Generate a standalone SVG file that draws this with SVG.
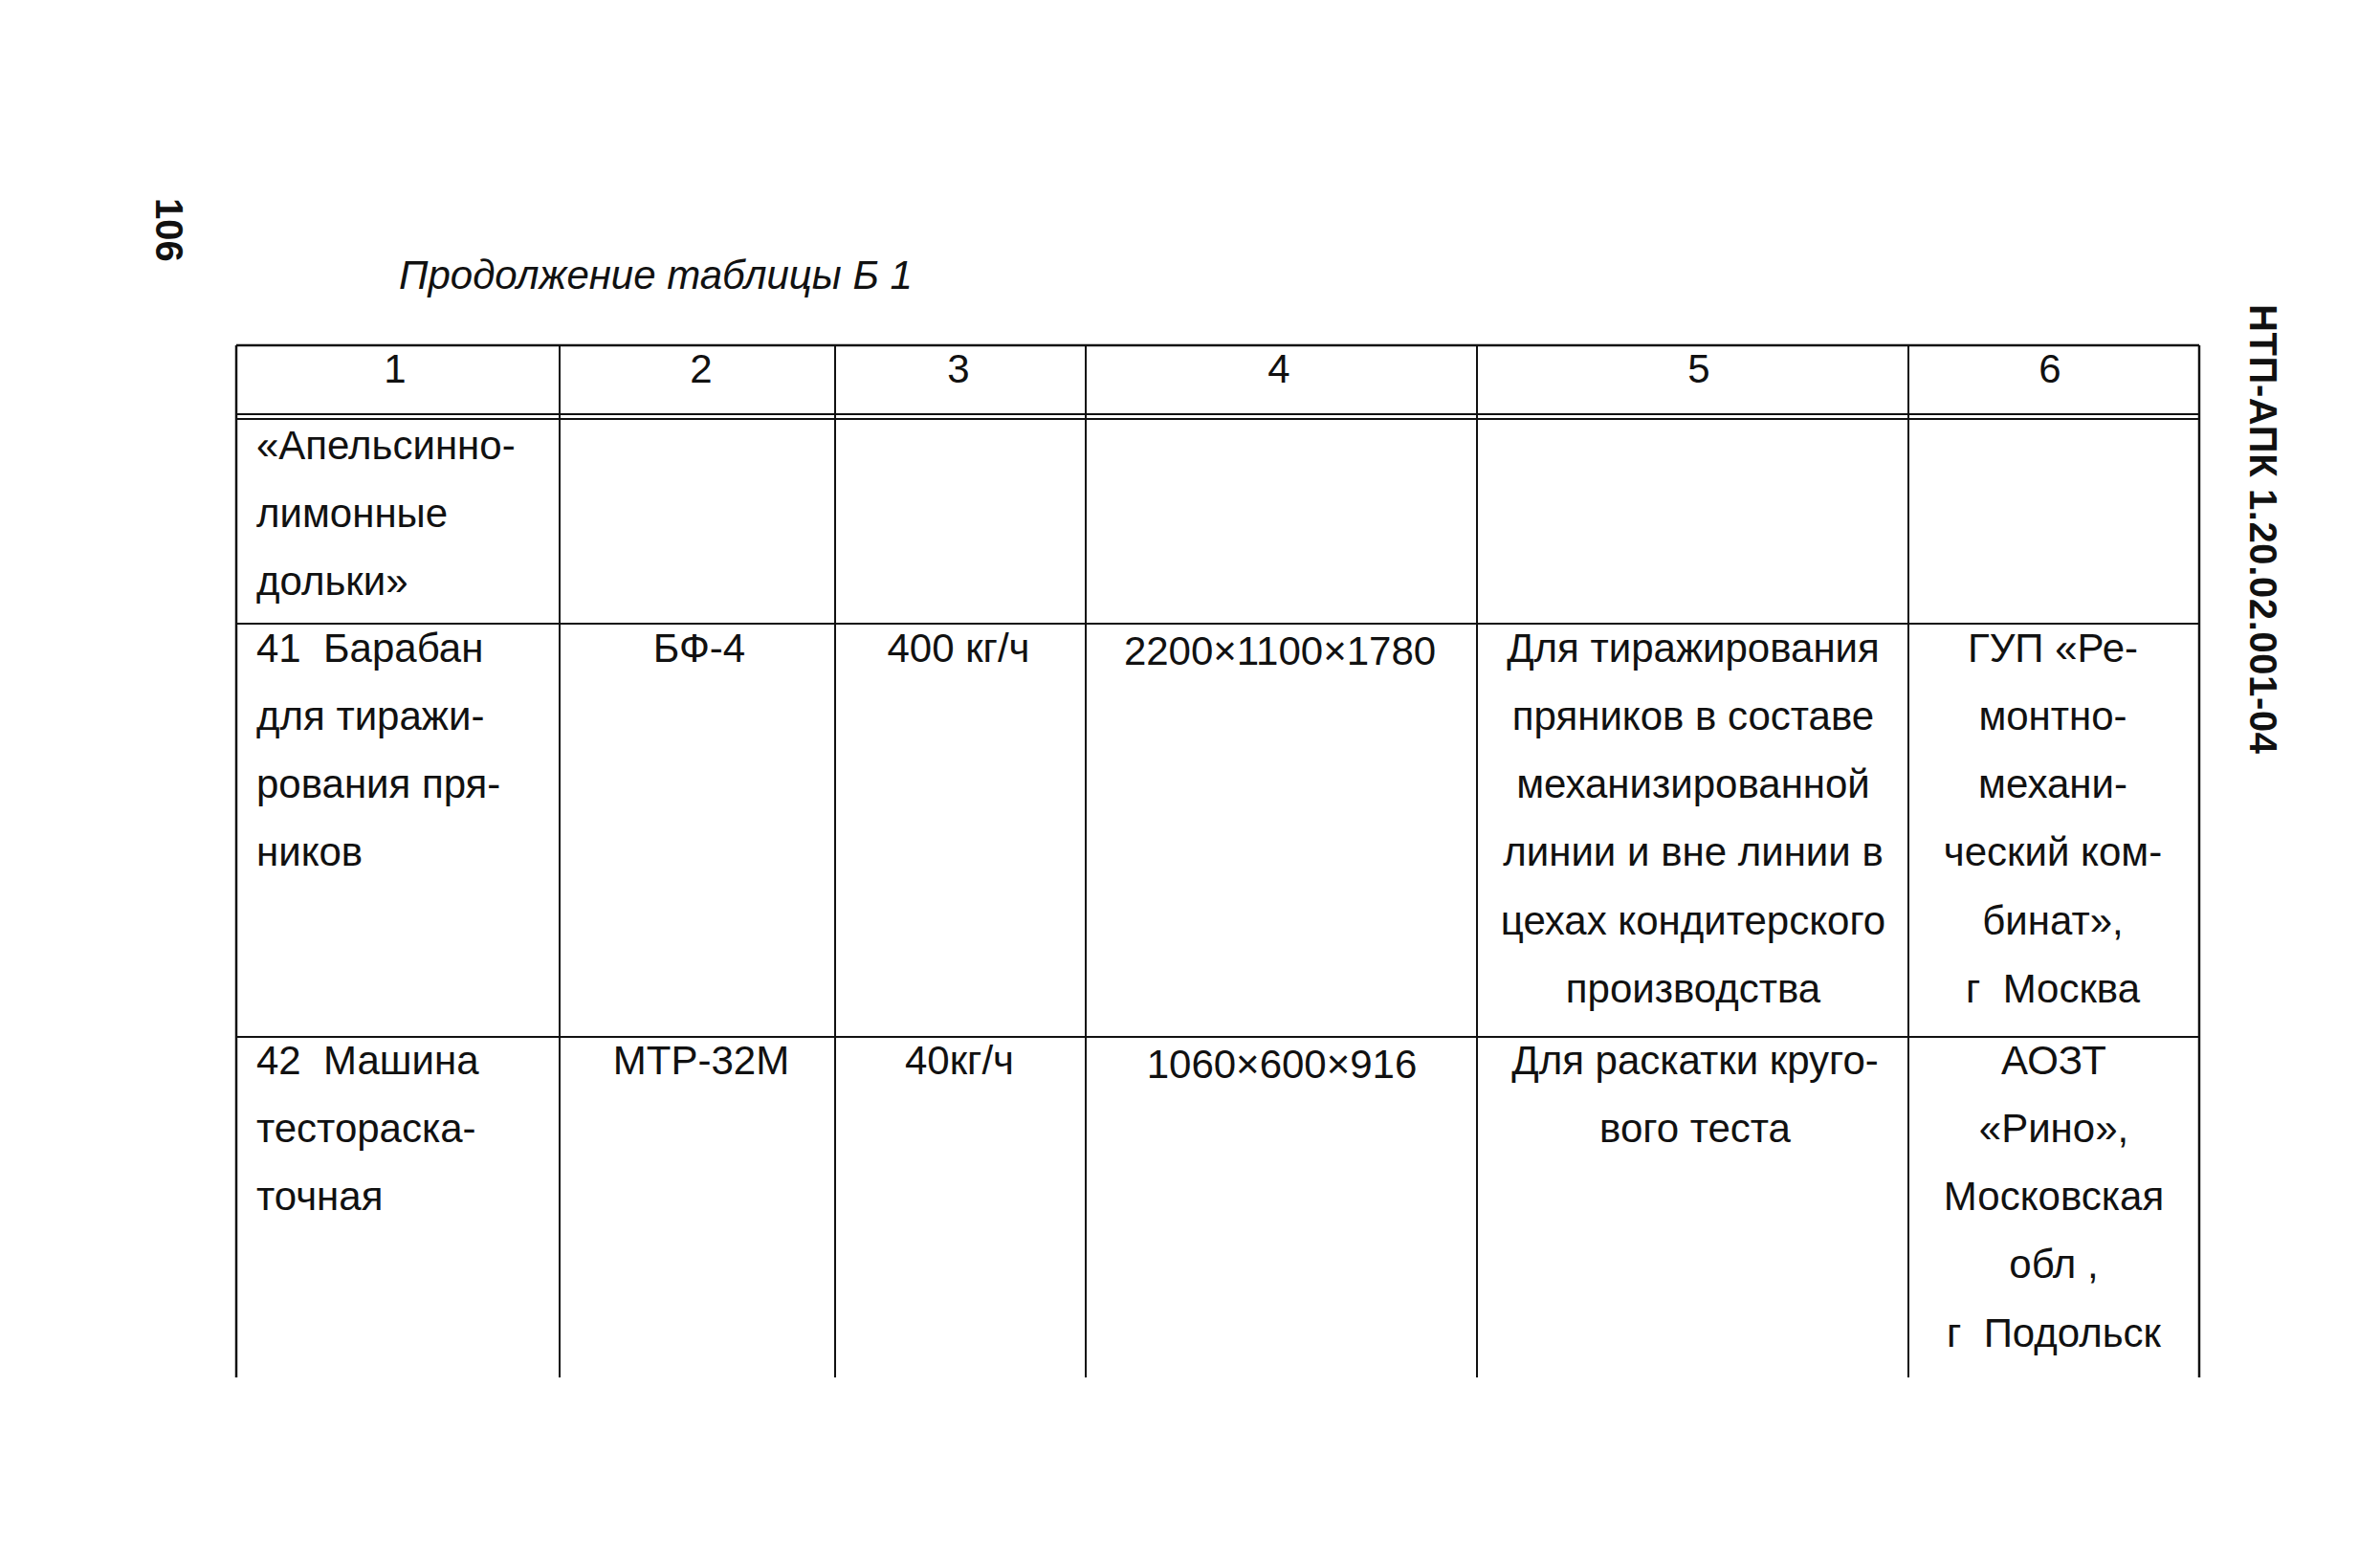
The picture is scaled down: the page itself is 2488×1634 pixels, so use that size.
<svg xmlns="http://www.w3.org/2000/svg" width="2488" height="1634" viewBox="0 0 2488 1634">
<style>
text{font-family:"Liberation Sans",Arial,sans-serif;fill:#111;white-space:pre}
.b{font-size:42px}
.c{text-anchor:middle}
.t{font-size:42px;font-style:italic}
.r{font-size:40px;font-weight:bold}
.g line{stroke:#111;stroke-width:2.5}
.g .th{stroke-width:2}
</style>
<rect width="2488" height="1634" fill="#fff"/>
<g id="page-number"><text class="r" transform="translate(163,207) rotate(90)">106</text></g>
<g id="doc-code"><text class="r" transform="translate(2352,318) rotate(90)" textLength="470" lengthAdjust="spacing">НТП-АПК 1.20.02.001-04</text></g>
<g id="title"><text class="t" x="417" y="302">Продолжение таблицы Б 1</text></g>
<g id="grid" class="g">
<line x1="247" y1="361" x2="2299" y2="361"/>
<line class="th" x1="247" y1="433" x2="2299" y2="433"/>
<line class="th" x1="247" y1="438" x2="2299" y2="438"/>
<line class="th" x1="247" y1="652" x2="2299" y2="652"/>
<line class="th" x1="247" y1="1084" x2="2299" y2="1084"/>
<line x1="247" y1="361" x2="247" y2="1440"/>
<line class="th" x1="585" y1="361" x2="585" y2="1440"/>
<line class="th" x1="873" y1="361" x2="873" y2="1440"/>
<line class="th" x1="1135" y1="361" x2="1135" y2="1440"/>
<line class="th" x1="1544" y1="361" x2="1544" y2="1440"/>
<line class="th" x1="1995" y1="361" x2="1995" y2="1440"/>
<line x1="2299" y1="361" x2="2299" y2="1440"/>
</g>
<g id="header" class="b c">
<text x="413" y="400">1</text>
<text x="733" y="400">2</text>
<text x="1002" y="400">3</text>
<text x="1337" y="400">4</text>
<text x="1776" y="400">5</text>
<text x="2143" y="400">6</text>
</g>
<g id="row-continuation" class="b">
<text x="268" y="480">«Апельсинно-</text>
<text x="268" y="551">лимонные</text>
<text x="268" y="622">дольки»</text>
</g>
<g id="row-41" class="b">
<text x="268" y="692">41  Барабан</text>
<text x="268" y="763">для тиражи-</text>
<text x="268" y="834">рования пря-</text>
<text x="268" y="905">ников</text>
<text class="c" x="731" y="692">БФ-4</text>
<text class="c" x="1002" y="692">400 кг/ч</text>
<text class="c" x="1338" y="695">2200×1100×1780</text>
<text class="c" x="1770" y="692">Для тиражирования</text>
<text class="c" x="1770" y="763">пряников в составе</text>
<text class="c" x="1770" y="834">механизированной</text>
<text class="c" x="1770" y="905">линии и вне линии в</text>
<text class="c" x="1770" y="977">цехах кондитерского</text>
<text class="c" x="1770" y="1048">производства</text>
<text class="c" x="2146" y="692">ГУП «Ре-</text>
<text class="c" x="2146" y="763">монтно-</text>
<text class="c" x="2146" y="834">механи-</text>
<text class="c" x="2146" y="905">ческий ком-</text>
<text class="c" x="2146" y="977">бинат»,</text>
<text class="c" x="2146" y="1048">г  Москва</text>
</g>
<g id="row-42" class="b">
<text x="268" y="1123">42  Машина</text>
<text x="268" y="1194">тестораска-</text>
<text x="268" y="1265">точная</text>
<text class="c" x="733" y="1123">МТР-32М</text>
<text class="c" x="1003" y="1123">40кг/ч</text>
<text class="c" x="1340" y="1127">1060×600×916</text>
<text class="c" x="1772" y="1123">Для раскатки круго-</text>
<text class="c" x="1772" y="1194">вого теста</text>
<text class="c" x="2147" y="1123">АОЗТ</text>
<text class="c" x="2147" y="1194">«Рино»,</text>
<text class="c" x="2147" y="1265">Московская</text>
<text class="c" x="2147" y="1336">обл ,</text>
<text class="c" x="2147" y="1408">г  Подольск</text>
</g>
</svg>
